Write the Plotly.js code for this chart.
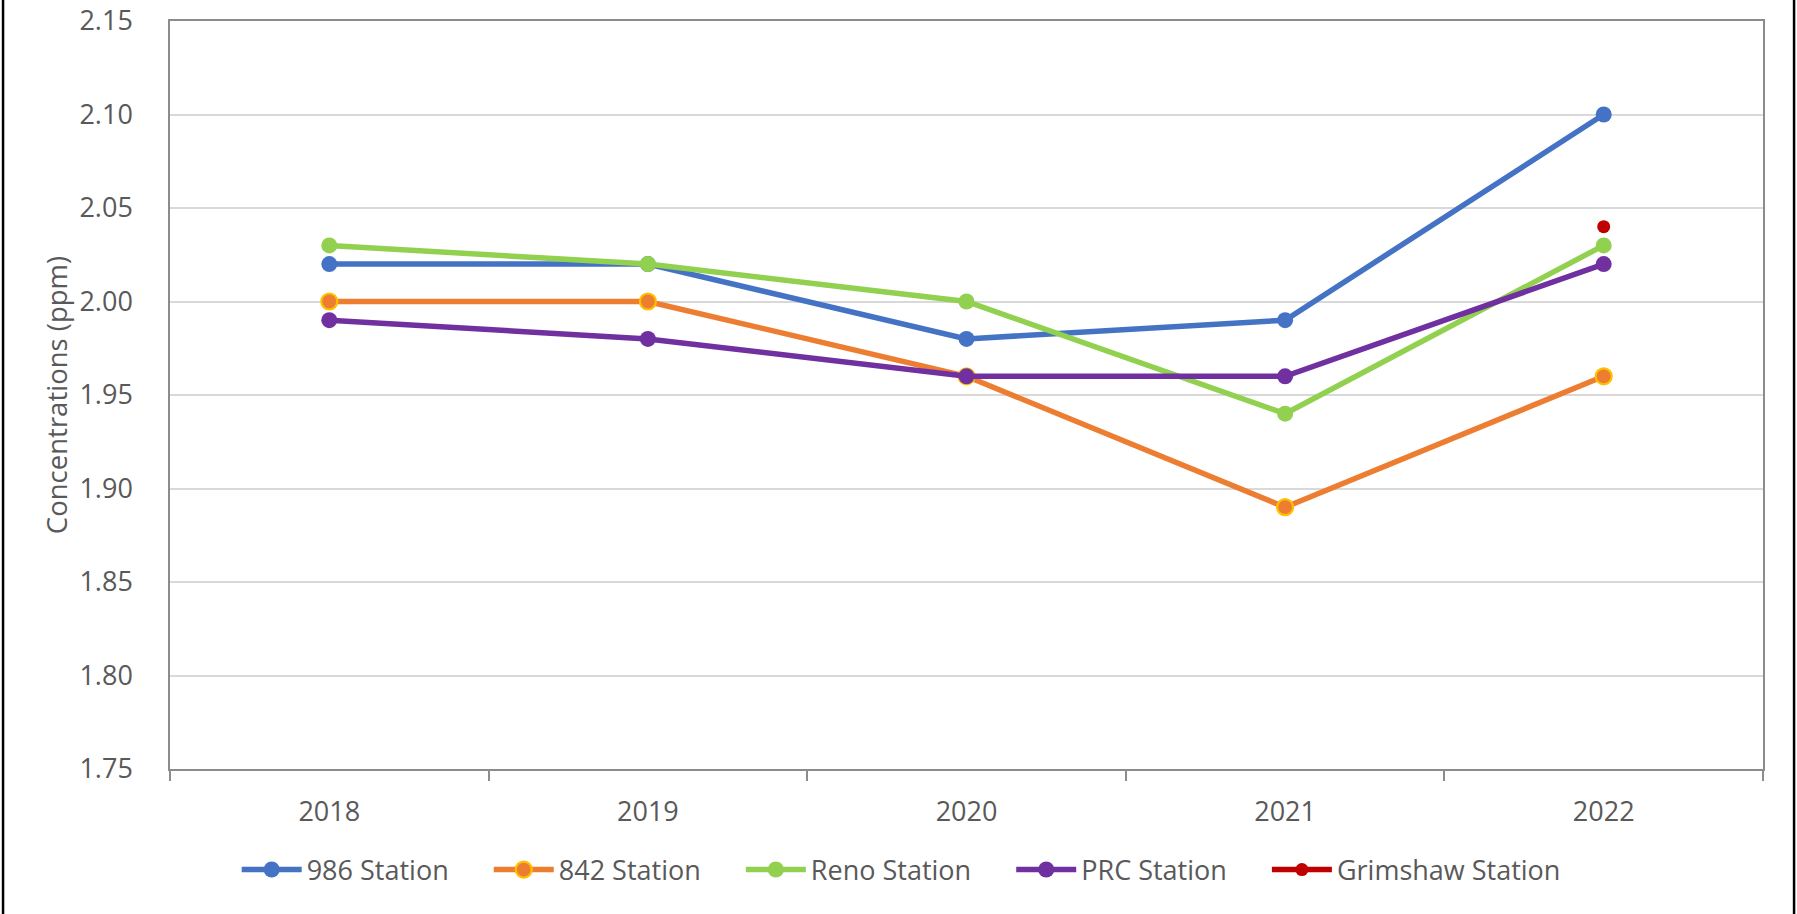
<!DOCTYPE html>
<html>
<head>
<meta charset="utf-8">
<script src="https://cdn.plot.ly/plotly-3.0.1.min.js"></script>
<style>
  html, body { margin: 0; padding: 0; background: #fff; }
  #chart { width: 1797px; height: 914px; }
</style>
</head>
<body>
<div id="chart"></div>
<script>
const years = ['2018', '2019', '2020', '2021', '2022'];
const seriesNames = ['986 Station', '842 Station', 'Reno Station', 'PRC Station', 'Grimshaw Station'];
const station986 = [2.02, 2.02, 1.98, 1.99, 2.10];
const station842 = [2.00, 2.00, 1.96, 1.89, 1.96];
const stationReno = [2.03, 2.02, 2.00, 1.94, 2.03];
const stationPRC = [1.99, 1.98, 1.96, 1.96, 2.02];
const stationGrimshaw = [null, null, null, null, 2.04];
const yTicks = [1.75, 1.80, 1.85, 1.90, 1.95, 2.00, 2.05, 2.10, 2.15];

const FONT = 'Open Sans, sans-serif';
const TXT = '#595959';
const PAD = '\u00A0\u00A0\u00A0\u00A0\u00A0';

function tr(name, y, color, opts) {
  opts = opts || {};
  return {
    type: 'scatter', mode: 'lines+markers', name: name + (opts.last ? '' : PAD),
    x: years, y: y,
    line: { color: color, width: 5.5 },
    marker: {
      color: color, size: opts.size || 16,
      line: { color: opts.outline || color, width: opts.outline ? 2.2 : 0 }
    },
    cliponaxis: false
  };
}

const data = [
  tr(seriesNames[0], station986, '#4472C4'),
  tr(seriesNames[1], station842, '#ED7D31', { outline: '#FFC000' }),
  tr(seriesNames[2], stationReno, '#92D050'),
  tr(seriesNames[3], stationPRC, '#7030A0'),
  tr(seriesNames[4], stationGrimshaw, '#C00000', { size: 13, last: true })
];

const layout = {
  width: 1797, height: 914,
  margin: { l: 170, r: 34, t: 21, b: 145, autoexpand: false },
  paper_bgcolor: '#ffffff', plot_bgcolor: '#ffffff',
  font: { family: FONT, size: 27, color: TXT },
  showlegend: true,
  legend: {
    orientation: 'h', x: 0.459, xanchor: 'center', y: -0.135, yanchor: 'middle',
    font: { family: FONT, size: 27, color: TXT },
    itemwidth: 60, traceorder: 'normal'
  },
  xaxis: {
    type: 'category', range: [-0.5, 4.5],
    showline: true, linecolor: '#8c8c8c', linewidth: 1.5, mirror: true,
    ticks: 'outside', tickson: 'boundaries', ticklen: 10, tickcolor: '#8c8c8c', tickwidth: 1.5,
    ticklabelstandoff: 18,
    showgrid: false, zeroline: false,
    tickfont: { family: FONT, size: 27, color: TXT }
  },
  yaxis: {
    range: [1.75, 2.15], tickvals: yTicks, tickformat: '.2f',
    showline: true, linecolor: '#8c8c8c', linewidth: 1.5, mirror: true,
    ticks: '', ticklabelstandoff: 30,
    showgrid: true, gridcolor: '#d9d9d9', gridwidth: 1.5, zeroline: false,
    tickfont: { family: FONT, size: 27, color: TXT },
    title: { text: 'Concentrations (ppm)', font: { family: FONT, size: 27.5, color: TXT }, standoff: 4 }
  },
  shapes: [
    { type: 'line', xref: 'paper', yref: 'paper', x0: -0.1048, x1: -0.1048, y0: -0.3, y1: 1.1, line: { color: '#000', width: 2.5 } },
    { type: 'line', xref: 'paper', yref: 'paper', x0: 1.0195, x1: 1.0195, y0: -0.3, y1: 1.1, line: { color: '#000', width: 2.5 } }
  ]
};

Plotly.newPlot('chart', data, layout, { displayModeBar: false, responsive: false });
</script>
</body>
</html>
